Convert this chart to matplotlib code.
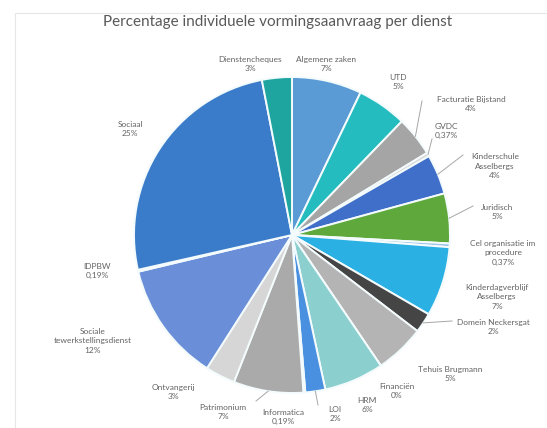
import numpy as np
import matplotlib.pyplot as plt
from matplotlib.patches import Rectangle

plt.rcParams['font.family'] = ['Lato', 'DejaVu Sans']

# data (clockwise from 12 o'clock)
diensten = ['Algemene zaken', 'UTD', 'Facturatie Bijstand', 'GVDC',
            'Kinderschule\nAsselbergs', 'Juridisch', 'Cel organisatie im\nprocedure',
            'Kinderdagverblijf\nAsselbergs', 'Domein Neckersgat', 'Tehuis Brugmann',
            'Financiën', 'HRM', 'LOI', 'Informatica', 'Patrimonium', 'Ontvangerij',
            'Sociale\ntewerkstellingsdienst', 'IDPBW', 'Sociaal', 'Dienstencheques']
percent = [7, 5, 4, 0.37, 4, 5, 0.37, 7, 2, 5, 0, 6, 2, 0.19, 7, 3, 12, 0.19, 25, 3]
pct_text = ['7%', '5%', '4%', '0,37%', '4%', '5%', '0,37%', '7%', '2%', '5%',
            '0%', '6%', '2%', '0,19%', '7%', '3%', '12%', '0,19%', '25%', '3%']

colors = ['#5b9bd5', '#25bcc0', '#a5a5a5', '#d8d8d8', '#3f6fc8', '#5fa83c',
          '#9dc3e6', '#2bb0e4', '#454545', '#b4b4b4', '#7f7f7f', '#8ccfcf',
          '#4a90e0', '#c9c9c9', '#aaaaaa', '#d6d6d6', '#6a8fd8', '#1f5fa8',
          '#3a7cc9', '#1fa5a0']

# label layout in pixels (centre of text block), pie centre (292, 235), radius 158
label_px = [(326, 64), (398, 82), (471, 104), (446, 131), (495, 166), (497, 212),
            (503, 253), (497, 297), (493, 327), (450, 374), (397, 391), (367, 405),
            (335, 414), (283, 417), (223, 412), (173, 392), (93, 341), (97, 271),
            (130, 129), (250, 64)]
# label-side end of leader lines
leader_px = {2: (422, 101), 3: (432, 139), 4: (463, 155), 5: (473, 206),
             8: (452, 321), 12: (318, 405), 14: (256, 401)}

CX, CY, R = 292, 235, 158.0
W, H = 547, 428


def to_data(p):
    return ((p[0] - CX) / R, (CY - p[1]) / R)


fig = plt.figure(figsize=(W / 100, H / 100), dpi=100)
fig.patches.append(Rectangle((15 / W, -0.1), 1.2, 1.1 - 13 / H, transform=fig.transFigure,
                             fill=False, edgecolor='#e6e6e6', linewidth=0.8))
ax = fig.add_axes([0, 0, 1, 1])

wedges, _ = ax.pie(percent, colors=colors, startangle=90, counterclock=False,
                   radius=1.0, wedgeprops=dict(edgecolor='#f4fbfd', linewidth=1.4))
ax.set_aspect('equal')
ax.set_xlim(-CX / R, (W - CX) / R)
ax.set_ylim((CY - H) / R, CY / R)
ax.axis('off')

txt_col = '#636363'
for i, w in enumerate(wedges):
    x, y = to_data(label_px[i])
    ax.text(x, y, diensten[i] + '\n' + pct_text[i], ha='center', va='center',
            fontsize=6, color=txt_col, linespacing=1.35)
    if i in leader_px:
        mid = np.deg2rad((w.theta1 + w.theta2) / 2)
        ex, ey = np.cos(mid), np.sin(mid)
        lx, ly = to_data(leader_px[i])
        ax.plot([lx, ex], [ly, ey], color='#a6a6a6', linewidth=0.7)

fig.text(278 / W, 1 - 22 / H, 'Percentage individuele vormingsaanvraag per dienst',
         ha='center', va='center', fontsize=11, color='#595959')

fig.savefig('out.png', dpi=100)
